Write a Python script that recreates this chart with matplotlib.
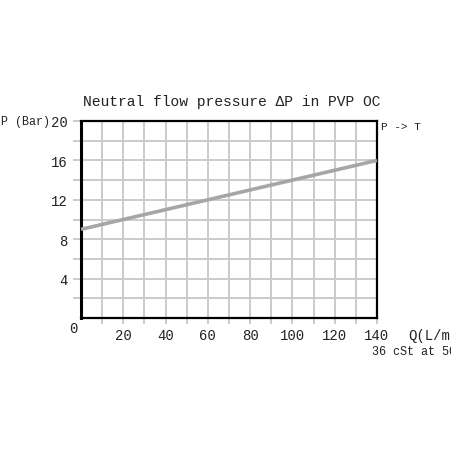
import matplotlib
matplotlib.use("Agg")
import matplotlib.pyplot as plt
import numpy as np

# Data
flow_q = [0, 140]            # L/min
pressure_dp = [9.0, 16.0]    # bar
x_ticks = [10, 20, 30, 40, 50, 60, 70, 80, 90, 100, 110, 120, 130, 140]
x_tick_labels = ["", "20", "", "40", "", "60", "", "80", "", "100", "", "120", "", "140"]
y_ticks = [2, 4, 6, 8, 10, 12, 14, 16, 18, 20]
y_tick_labels = ["", "4", "", "8", "", "12", "", "16", "", "20"]

title = "Neutral flow pressure \u0394P in PVP OC"
FONT = ["Liberation Mono", "DejaVu Sans Mono"]

fig = plt.figure(figsize=(4.52, 4.52), dpi=100)
W = H = 452.0
left, right, top, bottom = 81, 377, 122, 319
ax = fig.add_axes([left / W, 1 - bottom / H, (right - left) / W, (bottom - top) / H])

ax.set_xlim(0, 140)
ax.set_ylim(0, 20)

grid_c = "#cbcbcb"
ax.set_xticks(x_ticks)
ax.set_xticklabels(x_tick_labels, family=FONT, fontsize=10)
ax.set_yticks(y_ticks)
ax.set_yticklabels(y_tick_labels, family=FONT, fontsize=10)
ax.grid(True, color=grid_c, linewidth=1.4)
ax.set_axisbelow(True)
ax.tick_params(axis="x", length=4.5, width=1.4, color=grid_c, pad=3, labelcolor="#222222")
ax.tick_params(axis="y", length=5.8, width=1.4, color=grid_c, pad=4, labelcolor="#222222")
# black ticks at the corner positions
ax.xaxis.get_major_ticks()[-1].tick1line.set_color("black")
ax.yaxis.get_major_ticks()[-1].tick1line.set_color("black")

for s in ax.spines.values():
    s.set_color("black")
    s.set_linewidth(1.6)
ax.spines["left"].set_linewidth(2.2)

ax.plot(flow_q, pressure_dp, color="#a6a6a6", linewidth=2.6, solid_capstyle="butt", clip_on=False, zorder=3)

fig.text(232 / W, 1 - 102 / H, title, family=FONT, fontsize=10.5, ha="center", va="center", color="#222222")
fig.text(50 / W, 1 - 122 / H, "P (Bar)", family=FONT, fontsize=8.4, ha="right", va="center", color="#222222")
fig.text(73 / W, 1 - 329 / H, "0", family=FONT, fontsize=10, ha="center", va="center", color="#222222")
fig.text(381 / W, 1 - 127 / H, "P -> T", family=FONT, fontsize=8, ha="left", va="center", color="#222222")
fig.text(408 / W, 1 - 336 / H, "Q(L/min)", family=FONT, fontsize=10, ha="left", va="center", color="#222222")
fig.text(372 / W, 1 - 352 / H, "36 cSt at 50\u00b0C", family=FONT, fontsize=8.5, ha="left", va="center", color="#222222")

fig.savefig("out.png", dpi=100)
